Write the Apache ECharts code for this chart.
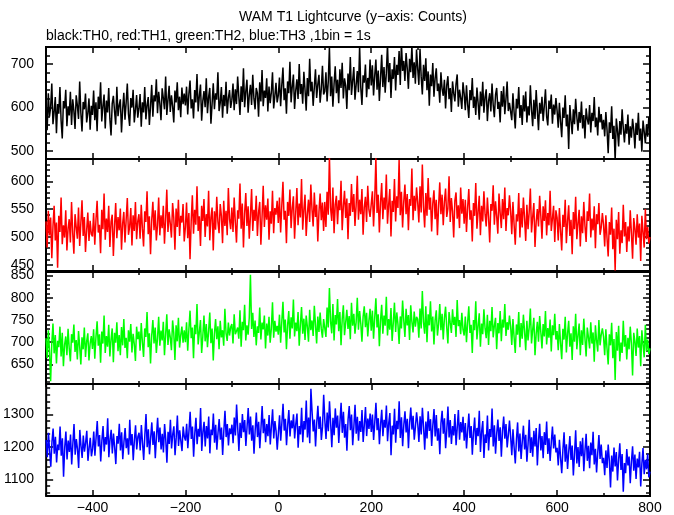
<!DOCTYPE html>
<html>
<head>
<meta charset="utf-8">
<script src="https://cdn.jsdelivr.net/npm/echarts@6/dist/echarts.min.js"></script>
<style>html,body{margin:0;padding:0;background:#fff}#c{width:674px;height:515px}</style>
</head>
<body>
<div id="c"></div>
<script>
// time bins: -500 s .. 800 s, one point per 2.5 s
const binStart = -500;
const binStep = 2.5;

const th0 = [
612,548,633,579,601,655,562,590,624,541,608,586,647,570,529,615,598,641,557,603,582,636,560,619,593,551,628,605,574,660,588,545,613,596,632,566,587,621,549,604,
583,639,571,612,546,625,597,658,568,603,630,552,616,589,645,574,536,609,627,592,561,648,580,605,619,543,596,634,572,611,655,585,558,622,600,641,566,594,629,577,
598,631,556,612,589,647,573,605,624,560,603,652,579,628,614,665,587,636,609,571,644,622,596,671,583,617,650,590,628,603,566,639,612,658,594,625,578,646,608,632,
605,648,584,631,662,598,619,575,640,612,677,591,626,653,570,615,638,601,667,587,624,645,563,609,656,596,633,618,681,592,611,647,577,629,603,659,586,622,640,599,
617,655,594,642,608,671,626,583,649,613,690,601,637,664,588,628,652,606,675,621,596,645,633,579,658,614,686,603,639,622,667,591,648,610,635,681,598,626,657,612,
628,669,603,651,692,617,644,586,660,633,705,612,648,676,597,639,665,620,700,631,654,609,682,641,593,668,626,712,637,659,604,647,688,622,653,675,611,642,696,630,
637,681,614,659,738,626,671,602,654,695,633,664,610,688,645,703,621,667,650,597,678,640,716,629,661,693,618,652,684,635,741,646,606,674,657,699,624,668,642,710,
651,697,628,673,710,641,685,615,668,721,647,693,634,679,745,658,702,622,688,666,716,639,698,675,730,652,748,684,707,661,725,690,643,712,681,741,668,704,655,733,
689,652,735,671,630,698,661,713,640,683,604,676,649,702,625,667,690,638,655,611,681,643,627,664,598,651,672,619,645,590,660,633,614,654,676,602,641,623,597,658,
632,594,651,607,576,640,617,668,599,625,583,646,611,572,637,603,659,588,624,642,569,615,633,591,655,606,578,629,645,597,613,566,638,602,649,585,620,660,592,611,
614,571,633,589,552,620,598,647,576,606,560,628,591,637,566,603,582,651,595,557,618,574,640,593,548,611,586,625,569,604,642,580,559,616,597,630,563,607,584,622,
593,554,611,568,532,600,576,628,557,584,505,606,571,539,596,562,620,579,547,590,565,614,552,583,529,598,574,561,606,543,588,569,624,555,577,536,602,566,585,550,
572,534,590,549,495,566,542,603,528,558,478,575,547,511,569,538,596,553,520,562,540,584,515,557,531,574,549,506,565,537,588,524,552,499,570,545,518,561,533,578,
545];

const th1 = [
528,481,547,503,535,462,519,556,494,526,445,538,509,571,487,521,499,548,476,515,532,490,563,507,470,541,518,497,553,484,525,566,502,536,473,512,544,493,529,505,
501,543,486,530,565,508,522,471,549,514,578,495,533,509,556,482,527,540,466,519,561,498,536,512,551,477,524,545,490,531,570,504,518,552,485,539,511,563,496,528,
541,497,558,515,483,546,527,582,505,537,469,530,563,512,548,494,521,571,503,539,516,556,488,532,585,509,545,524,499,561,535,477,551,518,567,502,538,526,559,492,
517,562,498,543,460,528,575,506,549,522,591,511,537,484,556,529,568,500,541,519,583,494,535,553,476,546,513,572,527,507,559,538,489,565,520,547,503,588,532,514,
553,509,571,526,490,548,533,596,515,560,481,542,579,520,555,497,538,586,511,549,529,574,502,544,563,486,536,592,518,557,531,569,495,546,524,583,507,552,540,565,
525,571,508,556,599,531,547,489,563,538,585,516,552,573,497,544,588,521,560,535,604,513,549,576,502,541,567,527,594,550,519,580,536,558,492,545,578,530,562,511,
563,518,581,540,645,552,529,589,507,558,574,523,566,548,601,512,555,583,534,569,496,561,538,595,545,577,520,557,610,531,567,541,586,504,553,572,527,592,549,536,
536,582,519,567,642,543,576,508,561,597,532,571,549,612,524,558,586,501,565,545,604,528,573,552,638,539,581,517,563,594,541,577,512,568,556,623,530,574,547,589,
562,526,591,544,630,553,517,579,538,606,549,571,510,560,584,532,567,503,555,598,541,576,521,563,587,536,551,609,527,570,546,499,565,580,533,557,516,589,542,568,
524,567,509,553,586,531,548,492,561,538,597,515,545,574,503,556,528,582,541,519,571,535,490,559,547,593,522,564,537,506,578,543,516,568,532,589,511,552,539,575,
547,505,563,522,486,541,528,579,499,552,517,571,534,493,558,514,545,587,508,536,561,482,527,550,519,574,538,497,555,529,566,503,543,521,583,511,533,556,491,548,
535,494,552,511,476,540,518,567,489,528,557,502,531,469,545,514,572,496,524,549,483,537,507,563,520,491,546,529,578,499,533,512,555,480,541,523,561,504,517,543,
522,483,539,498,465,527,504,553,478,515,440,531,496,545,470,512,489,558,501,527,473,519,492,548,507,461,534,515,486,541,499,524,457,538,509,481,550,496,518,488,
500];

const th2 = [
709,664,727,681,612,698,742,675,716,652,703,689,735,668,721,646,694,713,671,730,686,657,718,699,740,678,705,661,725,690,650,711,684,733,667,702,720,659,697,714,
685,729,663,711,747,692,718,654,724,697,760,676,714,690,739,668,706,731,655,721,699,745,680,716,671,734,693,752,687,710,664,727,701,741,677,719,696,658,735,707,
724,681,743,700,667,731,712,768,689,720,652,715,750,697,733,676,709,757,692,726,704,746,671,717,763,694,729,711,682,749,721,660,738,702,755,688,716,735,699,727,
700,745,681,728,771,709,733,664,739,718,786,695,722,750,676,713,760,702,741,689,725,767,698,731,659,719,752,707,736,684,748,711,727,692,775,720,703,744,715,734,
741,697,763,718,725,733,708,772,690,746,727,784,704,738,717,755,852,730,766,712,749,693,736,721,778,706,744,729,760,686,742,715,757,699,731,790,710,748,724,737,
717,762,699,746,791,722,751,684,738,770,708,756,731,796,713,744,725,768,692,740,779,719,753,705,760,735,701,773,727,749,714,782,739,697,758,723,767,730,710,752,
756,712,778,733,822,747,720,786,704,761,740,797,725,768,693,751,783,716,744,773,730,759,707,789,737,764,719,745,800,728,770,742,701,757,781,734,766,713,748,775,
726,771,708,755,799,733,763,691,748,784,719,760,737,802,715,752,728,777,703,744,789,723,767,741,696,758,731,794,749,712,775,738,761,705,783,746,722,769,735,757,
752,710,776,731,815,745,719,781,700,763,738,792,724,758,695,749,772,715,741,786,727,764,706,754,780,733,697,768,744,721,774,739,757,712,795,736,750,718,766,729,
715,758,700,744,781,721,739,676,750,727,792,706,736,765,690,742,718,774,731,709,762,694,748,725,779,711,737,755,684,743,720,770,702,751,733,786,714,745,728,760,
736,694,752,711,676,740,717,768,689,743,708,762,725,682,748,704,733,776,697,728,755,671,719,746,701,759,723,686,741,713,770,695,732,710,751,679,738,716,764,706,
725,682,741,698,662,730,706,757,677,719,748,690,720,660,736,701,764,684,715,742,671,727,694,753,709,668,733,711,686,745,697,722,656,738,704,679,750,693,717,731,
712,671,729,686,650,718,693,744,664,707,615,723,681,737,657,699,676,748,690,716,661,710,684,735,697,625,721,702,669,731,688,714,646,727,695,666,739,680,706,673,
686];

const th3 = [
1221,1168,1243,1187,1139,1215,1256,1179,1231,1152,1207,1190,1262,1173,1226,1108,1198,1247,1161,1219,1184,1238,1146,1209,1270,1176,1224,1193,1135,1252,1203,1166,1235,1185,1213,1249,1157,1196,1228,1171,
1194,1247,1173,1228,1279,1201,1236,1155,1219,1264,1186,1230,1207,1288,1168,1223,1252,1180,1241,1198,1147,1233,1210,1271,1189,1245,1162,1215,1258,1196,1226,1176,1283,1204,1239,1159,1221,1266,1192,1231,
1243,1189,1267,1212,1160,1236,1301,1199,1254,1177,1228,1275,1206,1248,1165,1233,1289,1214,1259,1192,1240,1183,1270,1222,1151,1246,1209,1283,1195,1238,1263,1174,1229,1296,1203,1251,1218,1187,1262,1231,
1219,1271,1196,1249,1308,1224,1262,1170,1241,1289,1208,1255,1231,1319,1187,1246,1277,1201,1264,1226,1293,1180,1253,1236,1302,1213,1268,1191,1243,1285,1222,1259,1175,1248,1311,1230,1270,1204,1257,1239,
1268,1211,1290,1235,1330,1256,1187,1274,1227,1301,1245,1282,1203,1261,1319,1238,1293,1219,1266,1179,1251,1305,1230,1277,1196,1258,1325,1242,1286,1214,1270,1233,1298,1207,1263,1315,1226,1279,1248,1191,
1243,1297,1219,1274,1332,1250,1286,1205,1267,1313,1232,1281,1257,1300,1226,1271,1302,1197,1264,1238,1320,1214,1279,1253,1342,1229,1290,1211,1378,1308,1247,1284,1201,1273,1326,1255,1293,1221,1262,1360,
1281,1224,1305,1248,1340,1272,1199,1289,1236,1318,1259,1296,1212,1277,1335,1243,1308,1228,1270,1188,1284,1325,1251,1299,1205,1262,1329,1240,1292,1219,1279,1246,1313,1215,1268,1322,1233,1287,1255,1302,
1246,1299,1221,1276,1335,1251,1288,1208,1269,1314,1233,1283,1259,1327,1217,1272,1304,1174,1265,1238,1317,1213,1280,1254,1340,1227,1291,1202,1267,1309,1244,1286,1196,1274,1321,1253,1295,1222,1261,1306,
1270,1215,1294,1238,1320,1261,1191,1278,1226,1309,1249,1285,1203,1266,1316,1232,1298,1219,1257,1177,1273,1311,1240,1288,1196,1251,1324,1229,1282,1209,1264,1235,1301,1205,1259,1313,1222,1276,1244,1292,
1219,1273,1195,1251,1302,1227,1264,1176,1244,1290,1206,1258,1233,1311,1184,1247,1279,1166,1238,1212,1296,1189,1255,1230,1318,1201,1266,1179,1241,1284,1218,1260,1170,1249,1293,1225,1270,1198,1236,1281,
1230,1174,1254,1197,1149,1223,1275,1186,1241,1163,1216,1265,1192,1237,1154,1209,1283,1181,1229,1170,1249,1201,1258,1143,1218,1271,1189,1233,1165,1245,1206,1278,1178,1226,1157,1214,1262,1195,1238,1183,
1197,1143,1222,1166,1119,1191,1245,1154,1208,1132,1185,1233,1160,1204,1112,1178,1251,1149,1199,1138,1217,1171,1228,1125,1188,1240,1157,1203,1134,1213,1174,1246,1146,1194,1121,1182,1236,1163,1207,1150,
1166,1113,1189,1135,1207,1157,1075,1173,1124,1198,1140,1184,1097,1161,1211,1129,1178,1062,1150,1119,1193,1143,1170,1088,1155,1202,1127,1176,1101,1164,1137,1185,1078,1148,1196,1116,1160,1131,1179,1106,
1124];

// axes
const xRange = [-500, 800];
const xMajorTicks = [-400, -200, 0, 200, 400, 600, 800];
const xMinorTicks = [-500, -300, -100, 100, 300, 500, 700];

const yRanges = [[482, 739], [439, 640], [606, 858], [1049, 1393]];
const yMajorTicks = [[500, 600, 700], [450, 500, 550, 600], [650, 700, 750, 800, 850], [1100, 1200, 1300]];
const yMinorTicks = [
  [500, 520, 540, 560, 580, 620, 640, 660, 680, 720],
  [440, 460, 470, 480, 490, 510, 520, 530, 540, 560, 570, 580, 590, 610, 620, 630, 640],
  [610, 620, 630, 640, 660, 670, 680, 690, 710, 720, 730, 740, 760, 770, 780, 790, 810, 820, 830, 840],
  [1060, 1080, 1120, 1140, 1160, 1180, 1220, 1240, 1260, 1280, 1320, 1340, 1360, 1380]
];

const colors = ['#000000', '#ff0000', '#00ff00', '#0000ff'];
const seriesData = [th0, th1, th2, th3];
const titleText = 'WAM T1 Lightcurve (y\u2212axis: Counts)';
const subText = 'black:TH0, red:TH1, green:TH2, blue:TH3 ,1bin = 1s';

const FONT = '"Liberation Sans", Arial, Helvetica, sans-serif';
const panelTops = [47, 159, 272, 384];
const panelH = 112;

const fmt = v => String(v).replace('-', '\u2212');

const grids = [], xAxes = [], yAxes = [], series = [];
for (let g = 0; g < 4; g++) {
  grids.push({ left: 46, right: 24, top: panelTops[g], height: panelH, show: true,
    borderColor: '#000', borderWidth: 2, backgroundColor: 'transparent' });
  const mkX = (pos, ticks, len, label) => ({
    type: 'value', gridIndex: g, min: xRange[0], max: xRange[1], position: pos,
    splitLine: { show: false }, axisLine: { show: false, onZero: false },
    axisTick: { show: true, inside: true, length: len, customValues: ticks, lineStyle: { color: '#000', width: 1.5 } },
    axisLabel: label ? { show: true, customValues: xMajorTicks, formatter: fmt, color: '#000',
      fontSize: 14, fontFamily: FONT, margin: 5 } : { show: false }
  });
  xAxes.push(mkX('bottom', xMajorTicks, 6, g === 3));
  xAxes.push(mkX('bottom', xMinorTicks, 3, false));
  xAxes.push(mkX('top', xMajorTicks, 6, false));
  xAxes.push(mkX('top', xMinorTicks, 3, false));
  const mkY = (pos, ticks, len, label) => ({
    type: 'value', gridIndex: g, min: yRanges[g][0], max: yRanges[g][1], position: pos,
    splitLine: { show: false }, axisLine: { show: false, onZero: false },
    axisTick: { show: true, inside: true, length: len, customValues: ticks, lineStyle: { color: '#000', width: 1.5 } },
    axisLabel: label ? { show: true, customValues: yMajorTicks[g], formatter: fmt, color: '#000',
      fontSize: 14, fontFamily: FONT, margin: 12 } : { show: false }
  });
  yAxes.push(mkY('left', yMajorTicks[g], 7, true));
  yAxes.push(mkY('left', yMinorTicks[g], 4, false));
  yAxes.push(mkY('right', yMajorTicks[g], 7, false));
  yAxes.push(mkY('right', yMinorTicks[g], 4, false));
  const vals = seriesData[g];
  series.push({
    type: 'line', xAxisIndex: g * 4, yAxisIndex: g * 4, showSymbol: false, symbol: 'none',
    data: vals.map((v, i) => [binStart + i * binStep, v]),
    lineStyle: { color: colors[g], width: 1.5 }, itemStyle: { color: colors[g] },
    clip: true, silent: true
  });
}

const chart = echarts.init(document.getElementById('c'), null, { renderer: 'canvas' });
chart.setOption({
  animation: false,
  backgroundColor: '#fff',
  title: [
    { text: titleText, left: 348, top: 5, textAlign: 'center',
      textStyle: { fontFamily: FONT, fontSize: 14, fontWeight: 'normal', color: '#000' } },
    { text: subText, left: 41, top: 24,
      textStyle: { fontFamily: FONT, fontSize: 14, fontWeight: 'normal', color: '#000' } }
  ],
  grid: grids, xAxis: xAxes, yAxis: yAxes, series: series
});
</script>
</body>
</html>
